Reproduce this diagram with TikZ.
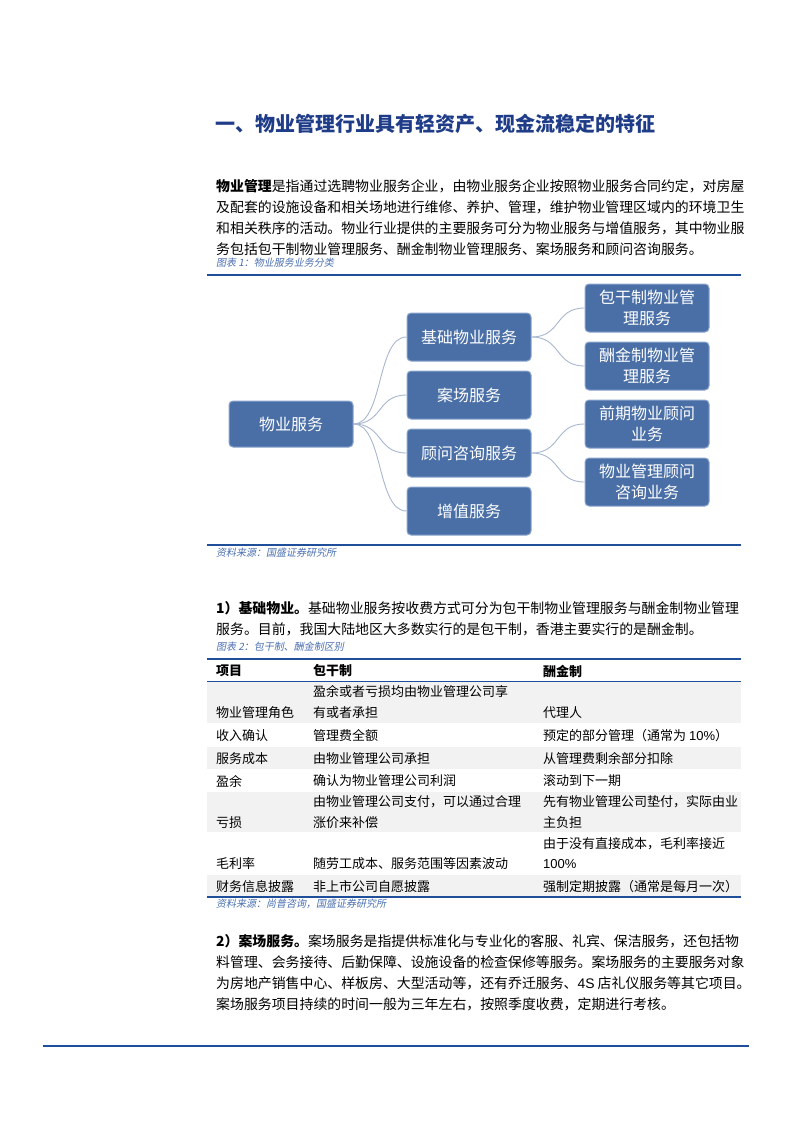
\documentclass[tikz,border=0pt]{standalone}
\usepackage{fontspec}
\setmainfont{Noto Sans CJK SC}
\newfontfamily\cjkit[FakeSlant=0.2]{Noto Sans CJK SC}
\newfontfamily\latn{Liberation Sans}
\definecolor{tblue}{HTML}{1F3C88}
\definecolor{rule}{HTML}{1F4E9A}
\definecolor{boxf}{HTML}{4A6FA6}
\definecolor{boxd}{HTML}{8AA4CC}
\definecolor{conn}{HTML}{A8B7CF}
\definecolor{capc}{HTML}{4A6FB0}
\definecolor{rowg}{HTML}{F2F2F2}
\tikzset{
  body/.style={anchor=west,inner sep=0pt,font=\fontsize{13.9}{14}\selectfont},
  cell/.style={anchor=west,inner sep=0pt,font=\fontsize{13}{13}\selectfont},
  captxt/.style={anchor=west,inner sep=0pt,text=capc,font=\cjkit\fontsize{10}{10}\selectfont},
  sbox/.style={draw=boxd,line width=1pt,fill=boxf,rounded corners=4pt,minimum width=124pt,minimum height=48pt,text=white,align=center,font=\fontsize{16}{21}\selectfont,inner sep=2pt},
  link/.style={draw=conn,line width=0.9pt},
}
\begin{document}
\begin{tikzpicture}[x=1pt,y=-1pt]
\useasboundingbox (0,0) rectangle (793,1122);
\node[anchor=west,inner sep=0pt,text=tblue,font=\bfseries\fontsize{20}{21}\selectfont] (title) at (215,124) {一、物业管理行业具有轻资产、现金流稳定的特征};
\node[body] (p1) at (216,186) {\textbf{物业管理}是指通过选聘物业服务企业，由物业服务企业按照物业服务合同约定，对房屋};
\node[body] (p2) at (216,207) {及配套的设施设备和相关场地进行维修、养护、管理，维护物业管理区域内的环境卫生};
\node[body] (p3) at (216,228) {和相关秩序的活动。物业行业提供的主要服务可分为物业服务与增值服务，其中物业服};
\node[body] (p4) at (216,249) {务包括包干制物业管理服务、酬金制物业管理服务、案场服务和顾问咨询服务。};
\node[captxt] (c1) at (216,263) {图表 1：物业服务业务分类};
\draw[rule,line width=1.6pt] (207,275) -- (741,275);
% diagram
\node[sbox,minimum height=46pt] (root) at (291,424) {物业服务};
\node[sbox] (a) at (469,337) {基础物业服务};
\node[sbox] (b) at (469,395) {案场服务};
\node[sbox] (c) at (469,453) {顾问咨询服务};
\node[sbox] (d) at (469,511) {增值服务};
\node[sbox] (a1) at (647,308) {包干制物业管\\理服务};
\node[sbox] (a2) at (647,366) {酬金制物业管\\理服务};
\node[sbox] (c1b) at (647,424) {前期物业顾问\\业务};
\node[sbox] (c2) at (647,482) {物业管理顾问\\咨询业务};
\foreach \t in {a,b,c,d} \draw[link] (root.east) .. controls +(30,0) and +(-30,0) .. (\t.west);
\foreach \t in {a1,a2} \draw[link] (a.east) .. controls +(30,0) and +(-30,0) .. (\t.west);
\foreach \t in {c1b,c2} \draw[link] (c.east) .. controls +(30,0) and +(-30,0) .. (\t.west);
\draw[rule,line width=1.2pt] (207,545) -- (741,545);
\node[captxt] (s1) at (216,553) {资料来源：国盛证券研究所};
% section 1
\node[body] (q1) at (216,608) {\textbf{1）基础物业。}基础物业服务按收费方式可分为包干制物业管理服务与酬金制物业管理};
\node[body] (q2) at (216,629) {服务。目前，我国大陆地区大多数实行的是包干制，香港主要实行的是酬金制。};
\node[captxt] (c2c) at (216,647) {图表 2：包干制、酬金制区别};
% table
\fill[rowg] (207,681) rectangle (741,723);
\fill[rowg] (207,747) rectangle (741,769);
\fill[rowg] (207,792) rectangle (741,832);
\fill[rowg] (207,875) rectangle (741,897);
\draw[rule,line width=1.2pt] (207,659) -- (741,659);
\draw[rule,line width=0.8pt] (207,681) -- (741,681);
\draw[rule,line width=1.2pt] (207,897) -- (741,897);
\node[cell,font=\bfseries\fontsize{13}{13}\selectfont] (h1) at (216,671) {项目};
\node[cell,font=\bfseries\fontsize{13}{13}\selectfont] (h2) at (313,671) {包干制};
\node[cell,font=\bfseries\fontsize{13}{13}\selectfont] (h3) at (543,671) {酬金制};
\node[cell] (r1a) at (216,713) {物业管理角色};
\node[cell] (r1b) at (313,692) {盈余或者亏损均由物业管理公司享};
\node[cell] (r1c) at (313,713) {有或者承担};
\node[cell] (r1d) at (543,713) {代理人};
\node[cell] (r2a) at (216,736) {收入确认};
\node[cell] (r2b) at (313,736) {管理费全额};
\node[cell] (r2c) at (543,736) {预定的部分管理（通常为 {\latn 10\%}）};
\node[cell] (r3a) at (216,759) {服务成本};
\node[cell] (r3b) at (313,759) {由物业管理公司承担};
\node[cell] (r3c) at (543,759) {从管理费剩余部分扣除};
\node[cell] (r4a) at (216,781) {盈余};
\node[cell] (r4b) at (313,781) {确认为物业管理公司利润};
\node[cell] (r4c) at (543,781) {滚动到下一期};
\node[cell] (r5a) at (216,823) {亏损};
\node[cell] (r5b) at (313,802) {由物业管理公司支付，可以通过合理};
\node[cell] (r5c) at (313,823) {涨价来补偿};
\node[cell] (r5d) at (543,802) {先有物业管理公司垫付，实际由业};
\node[cell] (r5e) at (543,823) {主负担};
\node[cell] (r6a) at (216,864) {毛利率};
\node[cell] (r6b) at (313,864) {随劳工成本、服务范围等因素波动};
\node[cell] (r6c) at (543,844) {由于没有直接成本，毛利率接近};
\node[cell] (r6d) at (543,864) {{\latn 100\%}};
\node[cell] (r7a) at (216,887) {财务信息披露};
\node[cell] (r7b) at (313,887) {非上市公司自愿披露};
\node[cell] (r7c) at (543,887) {强制定期披露（通常是每月一次）};
\node[captxt] (s2) at (216,904) {资料来源：尚普咨询，国盛证券研究所};
% section 2
\node[body] (t1) at (216,941) {\textbf{2）案场服务。}案场服务是指提供标准化与专业化的客服、礼宾、保洁服务，还包括物};
\node[body] (t2) at (216,962) {料管理、会务接待、后勤保障、设施设备的检查保修等服务。案场服务的主要服务对象};
\node[body] (t3) at (216,983) {为房地产销售中心、样板房、大型活动等，还有乔迁服务、{\latn 4S} 店礼仪服务等其它项目。};
\node[body] (t4) at (216,1004) {案场服务项目持续的时间一般为三年左右，按照季度收费，定期进行考核。};
\draw[rule,line width=2pt] (43,1046) -- (749,1046);
\end{tikzpicture}
\end{document}
